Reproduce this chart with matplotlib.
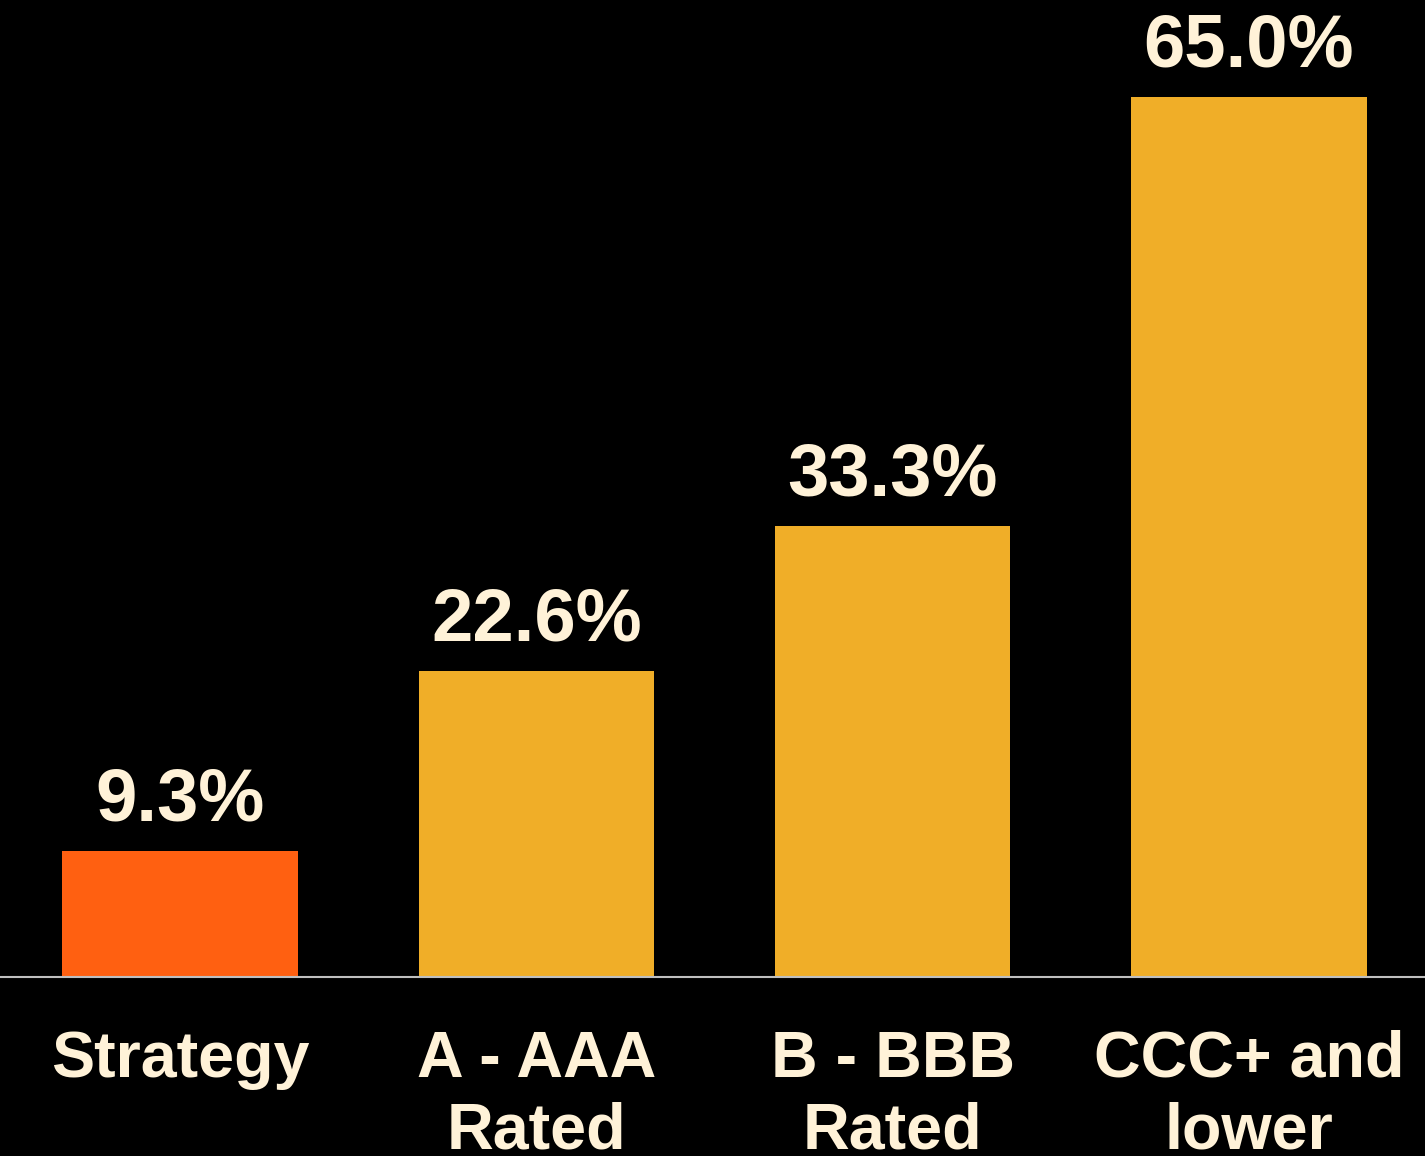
import matplotlib
matplotlib.use("Agg")
import matplotlib.pyplot as plt

categories = ["Strategy", "A - AAA\nRated", "B - BBB\nRated", "CCC+ and\nlower"]
values = [9.3, 22.6, 33.3, 65.0]
bar_colors = ["#FF6011", "#F0AE28", "#F0AE28", "#F0AE28"]
label_texts = ["9.3%", "22.6%", "33.3%", "65.0%"]

TEXT = "#FFF2D8"

plt.rcParams["font.family"] = ["Liberation Sans", "DejaVu Sans"]

fig = plt.figure(figsize=(14.25, 11.56), dpi=100, facecolor="black")
base = 977 / 1156
ax = fig.add_axes([0.0, 1 - base, 1.0, base], facecolor="black")

x = range(len(values))
bars = ax.bar(x, values, width=0.66, color=bar_colors, zorder=2)

for b, txt in zip(bars, label_texts):
    ax.annotate(txt, (b.get_x() + b.get_width() / 2, b.get_height()),
                xytext=(0, 22), textcoords="offset points",
                ha="center", va="baseline", fontsize=53.5, fontweight="bold",
                color=TEXT)

ax.set_xlim(-0.505, 3.494)
ax.set_ylim(0, 72.2)
ax.set_xticks(list(x))
ax.set_xticklabels(categories, fontsize=46.5, fontweight="bold", color=TEXT,
                   linespacing=1.25)
ax.tick_params(axis="x", length=0, pad=38)
ax.set_yticks([])

for side in ["top", "left", "right"]:
    ax.spines[side].set_visible(False)
ax.spines["bottom"].set_color("#BFBFBF")
ax.spines["bottom"].set_linewidth(1.5)

fig.savefig("out.png", dpi=100, facecolor="black")
